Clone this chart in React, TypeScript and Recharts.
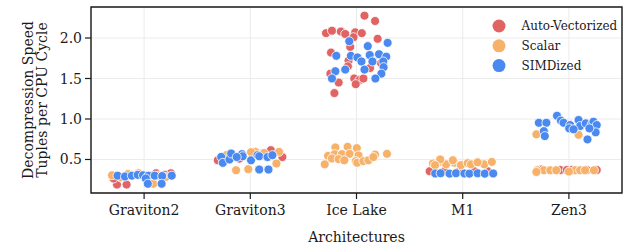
import React from 'react';
import { ScatterChart, Scatter, XAxis, YAxis, CartesianGrid, ReferenceArea } from 'recharts';

const architectures = ['Graviton2', 'Graviton3', 'Ice Lake', 'M1', 'Zen3'];
const seriesNames = ['Auto-Vectorized', 'Scalar', 'SIMDized'];
const seriesColors = ['#e06464', '#f6b26b', '#4a89f0'];
const yTicks = [0.5, 1.0, 1.5, 2.0];
const yDomain = [0.086, 2.383];

// [architecture index, strip jitter, tuples per CPU cycle]
const autoVectorized: [number, number, number][] = [
  [0, -0.255, 0.19], [0, -0.165, 0.19], [0, 0.112, 0.33], [0, 0.252, 0.33], [0, -0.287, 0.265],
  [0, -0.13, 0.31], [0, 0.056, 0.3], [0, 0.196, 0.31],
  [1, -0.306, 0.49], [1, 0.302, 0.53], [1, 0.193, 0.615], [1, -0.103, 0.51], [1, 0.1, 0.57],
  [2, 0.075, 2.276], [2, 0.175, 2.21], [2, -0.287, 2.06], [2, -0.231, 2.09], [2, -0.147, 2.08],
  [2, -0.106, 2.05], [2, -0.012, 2.07], [2, 0.05, 2.06], [2, -0.028, 2.01], [2, 0.199, 1.99],
  [2, -0.059, 1.89], [2, -0.24, 1.82], [2, -0.075, 1.72], [2, 0.128, 1.63], [2, -0.081, 1.65],
  [2, -0.021, 1.5], [2, 0.028, 1.48], [2, 0.065, 1.5], [2, -0.007, 1.43], [2, -0.168, 1.45],
  [2, -0.208, 1.32], [2, 0.231, 1.69], [2, -0.246, 1.56],
  [3, -0.311, 0.355], [3, -0.171, 0.355], [3, -0.031, 0.355], [3, 0.109, 0.355], [3, 0.234, 0.355],
  [4, -0.081, 0.37], [4, -0.019, 0.37], [4, 0.028, 0.37], [4, 0.168, 0.37], [4, 0.262, 0.37], [4, -0.26, 0.375],
];

const scalar: [number, number, number][] = [
  [0, -0.302, 0.305], [0, -0.152, 0.32], [0, -0.053, 0.33], [0, 0.087, 0.2], [0, 0.206, 0.285],
  [0, -0.22, 0.28], [0, 0.13, 0.3],
  [1, -0.134, 0.367], [1, -0.019, 0.38], [1, 0.246, 0.45], [1, 0.047, 0.594], [1, 0.271, 0.594],
  [1, -0.227, 0.553], [1, 0.007, 0.59], [1, 0.13, 0.58],
  [2, -0.199, 0.649], [2, -0.084, 0.656], [2, 0.003, 0.64], [2, -0.268, 0.545], [2, -0.206, 0.566],
  [2, -0.137, 0.566], [2, -0.065, 0.57], [2, 0.019, 0.55], [2, -0.231, 0.512], [2, -0.168, 0.504],
  [2, -0.115, 0.49], [2, -0.007, 0.48], [2, 0.007, 0.46], [2, 0.065, 0.48], [2, 0.112, 0.49],
  [2, 0.175, 0.56], [2, 0.287, 0.57], [2, -0.299, 0.44], [2, 0.159, 0.53],
  [3, -0.28, 0.45], [3, -0.218, 0.47], [3, -0.156, 0.44], [3, -0.078, 0.46], [3, -0.016, 0.43],
  [3, 0.047, 0.455], [3, 0.078, 0.44], [3, 0.203, 0.44], [3, 0.274, 0.47], [3, -0.212, 0.5],
  [3, -0.093, 0.49], [3, 0.14, 0.465], [3, -0.26, 0.43],
  [4, -0.306, 0.81], [4, 0.091, 0.805], [4, -0.299, 0.367], [4, -0.236, 0.367], [4, -0.175, 0.367],
  [4, -0.119, 0.367], [4, 0.059, 0.367], [4, 0.106, 0.367], [4, 0.152, 0.367], [4, 0.236, 0.367],
  [4, -0.306, 0.346], [4, 0.0, 0.35],
];

const simdized: [number, number, number][] = [
  [0, -0.25, 0.3], [0, -0.18, 0.29], [0, -0.115, 0.3], [0, -0.06, 0.31], [0, -0.01, 0.305],
  [0, 0.04, 0.3], [0, 0.1, 0.3], [0, 0.17, 0.295], [0, 0.26, 0.3], [0, 0.016, 0.265],
  [0, 0.035, 0.2], [0, 0.165, 0.2],
  [1, -0.274, 0.532], [1, -0.259, 0.458], [1, -0.196, 0.5], [1, -0.18, 0.574], [1, -0.078, 0.566],
  [1, -0.072, 0.54], [1, 0.007, 0.49], [1, 0.068, 0.553], [1, 0.084, 0.54], [1, 0.162, 0.53],
  [1, 0.208, 0.553], [1, 0.084, 0.376], [1, 0.171, 0.376], [1, -0.128, 0.53],
  [2, -0.068, 1.96], [2, 0.106, 1.9], [2, 0.293, 1.94], [2, -0.19, 1.78], [2, -0.053, 1.78],
  [2, 0.009, 1.76], [2, 0.124, 1.79], [2, 0.212, 1.8], [2, 0.28, 1.77], [2, 0.047, 1.71],
  [2, 0.15, 1.71], [2, 0.252, 1.71], [2, 0.255, 1.64], [2, -0.106, 1.61], [2, -0.199, 1.59],
  [2, 0.075, 1.61], [2, -0.231, 1.5], [2, 0.234, 1.56], [2, 0.178, 1.5],
  [3, -0.259, 0.327], [3, -0.208, 0.33], [3, -0.124, 0.325], [3, -0.063, 0.33], [3, 0.016, 0.327],
  [3, 0.063, 0.325], [3, 0.14, 0.33], [3, 0.208, 0.325], [3, 0.287, 0.327],
  [4, -0.283, 0.953], [4, -0.212, 0.953], [4, -0.112, 1.04], [4, -0.075, 0.98], [4, -0.05, 0.953],
  [4, 0.012, 0.925], [4, 0.003, 0.884], [4, 0.091, 0.987], [4, 0.106, 0.913], [4, 0.159, 0.946],
  [4, 0.215, 0.937], [4, 0.231, 0.966], [4, 0.262, 0.925], [4, 0.252, 0.835], [4, 0.175, 0.748],
  [4, -0.236, 0.85], [4, -0.227, 0.789], [4, 0.193, 0.884], [4, 0.044, 0.872],
];

const FONT = "'DejaVu Serif', 'Liberation Serif', serif";
const TEXT = '#1a1a1a';

const toPoints = (rows: [number, number, number][]) =>
  rows.map(([a, j, v]) => ({ x: a + j, y: v }));

const allSeries = [autoVectorized, scalar, simdized];

const makeDot = (color: string) => (props: any) => (
  <circle cx={props.cx} cy={props.cy} r={4.5} fill={color} stroke="#fff" strokeWidth={0.8} />
);

const textStyle = { fontFamily: FONT };

const XTick = (props: any) => (
  <text x={props.x} y={props.y + 9} textAnchor="middle" dominantBaseline="central"
    style={textStyle} fontSize={14} fill={TEXT}>
    {architectures[props.payload.value]}
  </text>
);

const YTick = (props: any) => (
  <text x={props.x} y={props.y} textAnchor="end" dominantBaseline="central"
    style={textStyle} fontSize={14} fill={TEXT}>
    {Number(props.payload.value).toFixed(1)}
  </text>
);

const YLabel = (props: any) => {
  const vb = props.viewBox || {};
  const cy = (vb.y || 0) + (vb.height || 0) / 2;
  return (
    <g>
      <text transform={`translate(27.5,${cy}) rotate(-90)`} textAnchor="middle" dominantBaseline="central"
        style={textStyle} fontSize={14} fill={TEXT}>Decompression Speed</text>
      <text transform={`translate(42,${cy}) rotate(-90)`} textAnchor="middle" dominantBaseline="central"
        style={textStyle} fontSize={14} fill={TEXT}>Tuples per CPU Cycle</text>
    </g>
  );
};

const XLabel = (props: any) => {
  const vb = props.viewBox || {};
  const cx = (vb.x || 0) + (vb.width || 0) / 2;
  return (
    <text x={cx} y={237} textAnchor="middle" dominantBaseline="central"
      style={textStyle} fontSize={14} fill={TEXT}>Architectures</text>
  );
};

export default function App() {
  return (
    <div style={{ position: 'absolute', left: 0, top: 0, width: 628, height: 246, background: '#fff' }}>
      <ScatterChart width={628} height={246} margin={{ top: 7, right: 6, bottom: 0, left: 0 }}>
        <CartesianGrid stroke="#ebebeb" strokeWidth={1} />
        <XAxis type="number" dataKey="x" domain={[-0.5, 4.5]} ticks={[0, 1, 2, 3, 4]}
          height={53} axisLine={false} tickLine={{ stroke: TEXT, strokeWidth: 1.2 }} tickSize={6}
          tick={<XTick />} label={<XLabel />} allowDataOverflow interval={0} />
        <YAxis type="number" dataKey="y" domain={yDomain} ticks={yTicks} width={91}
          axisLine={false} tickLine={{ stroke: TEXT, strokeWidth: 1.2 }} tickSize={6} tickMargin={3}
          tick={<YTick />} label={<YLabel />} allowDataOverflow interval={0} />
        <ReferenceArea x1={-0.5} x2={4.5} y1={yDomain[0]} y2={yDomain[1]} fill="none" fillOpacity={0}
          stroke={TEXT} strokeWidth={1.4} ifOverflow="visible" />
        {allSeries.map((rows, i) => (
          <Scatter key={seriesNames[i]} name={seriesNames[i]} data={toPoints(rows)}
            shape={makeDot(seriesColors[i])} isAnimationActive={false} />
        ))}
      </ScatterChart>
      <svg style={{ position: 'absolute', left: 480, top: 10 }} width={146} height={70}>
        {seriesNames.map((n, i) => (
          <g key={n}>
            <circle cx={19} cy={16 + i * 19.8} r={6.5} fill={seriesColors[i]} />
            <text x={41.5} y={16 + i * 19.8} dominantBaseline="central" style={textStyle}
              fontSize={12} fill={TEXT}>{n}</text>
          </g>
        ))}
      </svg>
    </div>
  );
}
